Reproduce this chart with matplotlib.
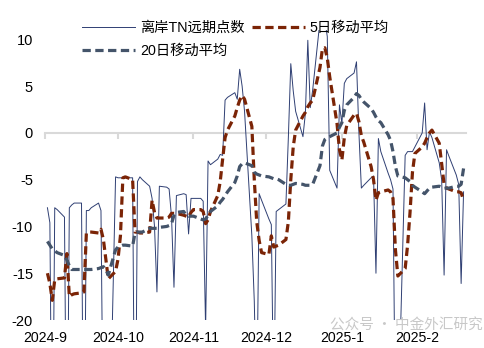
import matplotlib
matplotlib.use("Agg")
import matplotlib.pyplot as plt
import matplotlib.dates as mdates
import pandas as pd

plt.rcParams["font.family"] = ["Liberation Sans", "Noto Sans CJK SC"]

# business days shown on the chart
start_day = "2024-09-02"
end_day = "2025-02-20"

series_labels = ["离岸TN远期点数", "5日移动平均", "20日移动平均"]
month_ticks = ["2024-09-01", "2024-10-01", "2024-11-01", "2024-12-01", "2025-01-01", "2025-02-01"]
month_labels = ["2024-9", "2024-10", "2024-11", "2024-12", "2025-1", "2025-2"]
y_ticks = [-20, -15, -10, -5, 0, 5, 10]

# one row per week (Mon..Fri)
tn_points = [
    -8.0, -9.6, -40.0, -8.0, -8.2,
    -9.0, -40.0, -8.0, -7.7, -7.5,
    -7.5, -40.0, -8.3, -8.3, -8.0,
    -7.5, -8.3, -35.0, -25.0, -40.0,
    -4.7, -4.8, -4.8, -4.8, -4.8,
    -4.8, -40.0, -5.2, -4.7, -5.0,
    -5.7, -7.0, -10.0, -17.0, -5.7,
    -5.8, -6.0, -9.0, -16.5, -6.7,
    -6.5, -6.6, -10.8, -7.0, -7.0,
    -7.0, -7.3, -21.0, -3.0, -3.4,
    -2.8, -2.3, -2.4, 3.5, 3.8,
    4.3, 3.6, 6.8, 5.0, 2.3,
    -11.0, -18.0, -30.0, -6.5, -7.2,
    -9.2, -9.8, -30.0, -8.4, -8.2,
    -7.6, -0.5, 7.4, 4.5, 2.3,
    -0.4, 2.1, 9.9, 2.7, 4.6,
    12.0, 11.5, 12.0, 10.3, -4.0,
    -5.9, 3.0, 1.0, 5.3, 5.8,
    6.4, 7.6, 0.0, -5.9, -5.6,
    -4.8, -4.6, -15.0, -0.6, -2.0,
    -4.3, -5.0, -6.0, -32.0, -32.0,
    -2.4, -2.0, -2.0, -2.0, -1.5,
    0.0, 3.2, -1.8, 0.1, -0.5,
    -3.2, -5.0, -15.2, -1.8, -2.5,
    -4.5, -5.5, -16.1, -6.3,
]

ma5 = [
    -15.0, -16.1, -17.9, -15.7, -15.6,
    -15.5, -12.9, -17.5, -17.3, -17.2,
    -17.1, -17.0, -10.7, -10.6, -10.6,
    -10.7, -10.3, -11.4, -13.5, -15.6,
    -14.8, -13.5, -11.0, -4.8, -4.7,
    -5.0, -10.6, -10.6, -10.7, -10.7,
    -10.6, -7.2, -8.5, -9.1, -9.1,
    -9.1, -9.0, -8.6, -8.6, -8.6,
    -8.8, -8.9, -9.0, -8.5, -8.2,
    -8.2, -8.4, -9.7, -9.3, -8.4,
    -6.7, -5.2, -2.8, -0.5, 0.3,
    1.8, 2.7, 3.5, 4.0, 3.6,
    0.7, -5.0, -9.5, -11.5, -12.8,
    -13.0, -11.0, -12.2, -12.1, -12.0,
    -11.4, -9.5, -5.0, -1.5, 0.3,
    1.8, 2.2, 2.8, 3.2, 3.5,
    7.0, 9.0, 9.1, 8.0, 6.0,
    1.0, -1.8, -2.9, -0.5, 0.8,
    1.9, 2.1, 1.2, -0.3, -1.0,
    -3.6, -5.0, -7.2, -6.4, -6.3,
    -6.1, -6.3, -7.0, -12.5, -15.3,
    -14.5, -12.0, -8.5, -4.2, -2.2,
    -1.5, -1.1, -0.5, 0.0, 0.3,
    -1.1, -3.3, -5.5, -5.9, -6.0,
    -6.3, -6.3, -6.4, -7.2,
]

ma20 = [
    -11.6, -12.0, -12.4, -12.6, -12.8,
    -13.1, -13.6, -14.2, -14.6, -14.6,
    -14.6, -14.6, -14.6, -14.6, -14.6,
    -14.5, -14.4, -14.3, -14.6, -15.2,
    -12.5, -12.2, -12.1, -12.0, -12.0,
    -12.1, -10.7, -10.6, -10.6, -10.6,
    -10.2, -10.2, -10.2, -10.2, -10.1,
    -10.0, -9.9, -9.7, -8.8, -8.5,
    -8.4, -8.8, -8.9, -8.9, -8.9,
    -9.2, -9.3, -9.2, -8.8, -8.4,
    -7.8, -7.4, -7.1, -6.7, -6.3,
    -5.3, -4.6, -3.6, -3.3, -3.2,
    -3.5, -4.2, -4.4, -4.5, -4.6,
    -4.7, -4.8, -4.9, -4.9, -5.0,
    -5.5, -5.6, -5.6, -5.5, -5.4,
    -5.5, -5.6, -5.6, -5.6, -5.5,
    -3.5, -1.4, -0.7, -0.5, -0.4,
    0.0, 0.6, 1.1, 2.4, 3.0,
    3.8, 4.2, 4.0, 3.6, 3.3,
    2.6, 2.2, 1.7, 1.3, 1.1,
    -0.2, -0.8, -2.0, -3.6, -4.6,
    -4.8, -5.0, -5.2, -5.6, -5.8,
    -6.3, -6.5, -6.2, -5.9, -5.8,
    -5.7, -5.8, -5.9, -5.9, -5.9,
    -5.7, -5.7, -5.5, -3.8,
]

dates = pd.bdate_range(start_day, end_day)
x = mdates.date2num(dates)
tick_x = mdates.date2num(pd.to_datetime(month_ticks))

fig = plt.figure(figsize=(4.85, 3.48), dpi=100)
ax = fig.add_axes([45 / 485, 28 / 348, 421 / 485, 290 / 348])

h_raw, = ax.plot(x, tn_points, color="#2f3f73", lw=0.7)
h_ma5, = ax.plot(x, ma5, color="#7b2406", lw=2.3, dashes=(2.6, 1.4))
h_ma20, = ax.plot(x, ma20, color="#44546a", lw=2.3, dashes=(2.6, 1.4))

ax.set_xlim(mdates.date2num(pd.Timestamp("2024-09-01")), mdates.date2num(pd.Timestamp("2025-02-21")))
ax.set_ylim(-20, 11)

for side in ["top", "left", "right"]:
    ax.spines[side].set_visible(False)
ax.spines["bottom"].set_position(("data", 0))
ax.spines["bottom"].set_color("#d9d9d9")
ax.spines["bottom"].set_linewidth(1.5)
ax.spines["bottom"].set_zorder(0.5)

ax.set_xticks(tick_x)
ax.tick_params(axis="x", direction="out", length=4, width=1.5, color="#d9d9d9", labelbottom=False)
ax.set_yticks(y_ticks)
ax.set_yticklabels([str(v) for v in y_ticks])
ax.tick_params(axis="y", length=0, pad=8.6, labelsize=10.5, labelcolor="black")

# month labels sit at the bottom of the plot, ticks stay on the zero line
sec = ax.secondary_xaxis("bottom")
sec.set_xticks(tick_x, month_labels)
sec.spines["bottom"].set_visible(False)
sec.tick_params(length=0, pad=8, labelsize=10.2, labelcolor="black")

ax.legend([h_raw, h_ma20, h_ma5], [series_labels[0], series_labels[2], series_labels[1]],
          ncol=2, loc="upper left", bbox_to_anchor=(82 / 485, 1 - 21 / 348),
          bbox_transform=fig.transFigure, frameon=False, fontsize=10.3,
          handlelength=3.7, handletextpad=0.35, columnspacing=0.5,
          labelspacing=0.65, borderpad=0, borderaxespad=0)

fig.text(330 / 485, 1 - 326 / 348, "公众号 · 中金外汇研究", color="#c8c8c8",
         fontsize=10.5, va="center", ha="left",
         family=["Noto Sans CJK SC", "DejaVu Sans"])

fig.savefig("out.png", dpi=100)
